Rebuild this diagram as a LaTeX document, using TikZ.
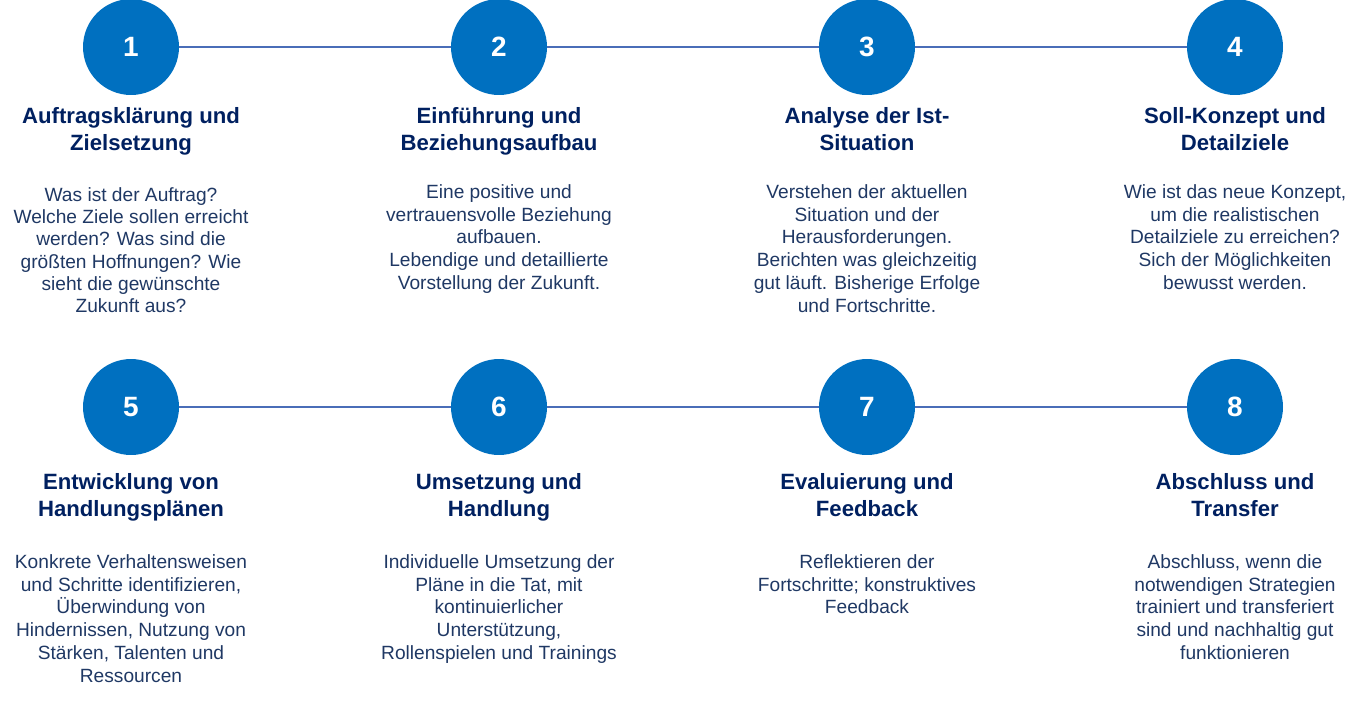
\documentclass[tikz,border=0pt]{standalone}
\usepackage{fontspec}
\setmainfont{Liberation Sans}
\usepackage{tikz}
\usetikzlibrary{calc}

\definecolor{kreisblau}{HTML}{0070C0}
\definecolor{linienblau}{HTML}{4A6DB8}
\definecolor{titelblau}{HTML}{002060}
\definecolor{textblau}{HTML}{1F3864}

\tikzset{
  schritt/.style={circle,fill=kreisblau,draw=none,minimum size=1.92cm,inner sep=0pt,
    text=white,font=\bfseries\fontsize{15.9}{18}\selectfont},
  titel/.style={anchor=north,inner sep=0pt,align=center,text=titelblau,
    font=\bfseries\fontsize{12.6}{15.7}\selectfont},
  beschr/.style={anchor=north,inner sep=0pt,align=center,text=textblau,
    font=\fontsize{10.9}{13}\selectfont},
  verbindung/.style={linienblau,line width=1.1pt},
}

\begin{document}
\begin{tikzpicture}[x=0.02cm,y=-0.02cm]
\useasboundingbox (0,0) rectangle (1366,700);

% Erste Reihe
\node[schritt] (s1) at (131,47) {1};
\node[schritt] (s2) at (499,47) {2};
\node[schritt] (s3) at (867,47) {3};
\node[schritt] (s4) at (1235,47) {4};

\draw[verbindung] (s1) -- (s2);
\draw[verbindung] (s2) -- (s3);
\draw[verbindung] (s3) -- (s4);

\node[titel] (t1) at (131,107) {Auftragsklärung und\\Zielsetzung};
\node[titel] (t2) at (499,107) {Einführung und\\Beziehungsaufbau};
\node[titel] (t3) at (867,107) {Analyse der Ist-\\Situation};
\node[titel] (t4) at (1235,107) {Soll-Konzept und\\Detailziele};

\node[beschr,font=\fontsize{10.9}{12.7}\selectfont] (b1) at (131,187) {Was ist der Auftrag?\\Welche Ziele sollen erreicht\\werden? Was sind die\\größten Hoffnungen? Wie\\sieht die gewünschte\\Zukunft aus?};
\node[beschr] (b2) at (499,184) {Eine positive und\\vertrauensvolle Beziehung\\aufbauen.\\Lebendige und detaillierte\\Vorstellung der Zukunft.};
\node[beschr] (b3) at (867,184) {Verstehen der aktuellen\\Situation und der\\Herausforderungen.\\Berichten was gleichzeitig\\gut läuft. Bisherige Erfolge\\und Fortschritte.};
\node[beschr] (b4) at (1235,184) {Wie ist das neue Konzept,\\um die realistischen\\Detailziele zu erreichen?\\Sich der Möglichkeiten\\bewusst werden.};

% Zweite Reihe
\node[schritt] (s5) at (131,407) {5};
\node[schritt] (s6) at (499,407) {6};
\node[schritt] (s7) at (867,407) {7};
\node[schritt] (s8) at (1235,407) {8};

\draw[verbindung] (s5) -- (s6);
\draw[verbindung] (s6) -- (s7);
\draw[verbindung] (s7) -- (s8);

\node[titel] (t5) at (131,473) {Entwicklung von\\Handlungsplänen};
\node[titel] (t6) at (499,473) {Umsetzung und\\Handlung};
\node[titel] (t7) at (867,473) {Evaluierung und\\Feedback};
\node[titel] (t8) at (1235,473) {Abschluss und\\Transfer};

\node[beschr] (b5) at (131,554) {Konkrete Verhaltensweisen\\und Schritte identifizieren,\\Überwindung von\\Hindernissen, Nutzung von\\Stärken, Talenten und\\Ressourcen};
\node[beschr] (b6) at (499,554) {Individuelle Umsetzung der\\Pläne in die Tat, mit\\kontinuierlicher\\Unterstützung,\\Rollenspielen und Trainings};
\node[beschr] (b7) at (867,554) {Reflektieren der\\Fortschritte; konstruktives\\Feedback};
\node[beschr] (b8) at (1235,554) {Abschluss, wenn die\\notwendigen Strategien\\trainiert und transferiert\\sind und nachhaltig gut\\funktionieren};
\end{tikzpicture}
\end{document}
